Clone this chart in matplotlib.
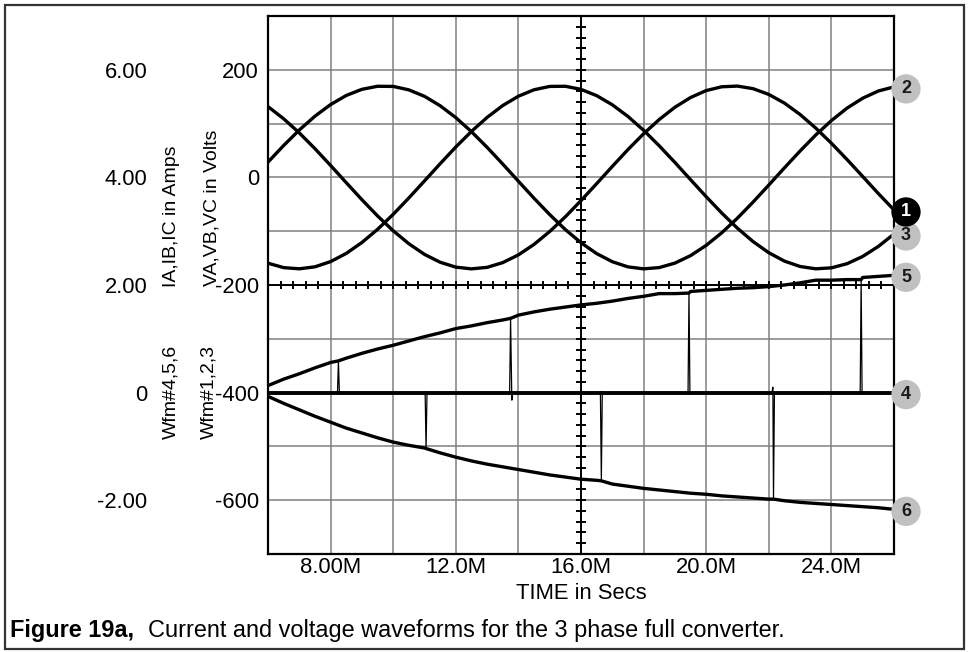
import numpy as np
import matplotlib.pyplot as plt
from matplotlib.patches import Rectangle

plt.rcParams['font.family'] = ['Liberation Sans', 'DejaVu Sans']

# three phase voltages (Wfm#1,2,3), read every 0.5 ms
time_ms = [6.0, 6.5, 7.0, 7.5, 8.0, 8.5, 9.0, 9.5, 10.0, 10.5, 11.0, 11.5, 12.0, 12.5,
           13.0, 13.5, 14.0, 14.5, 15.0, 15.5, 16.0, 16.5, 17.0, 17.5, 18.0, 18.5, 19.0,
           19.5, 20.0, 20.5, 21.0, 21.5, 22.0, 22.5, 23.0, 23.5, 24.0, 24.5, 25.0, 25.5, 26.0]
wfm1 = [131.6, 109.0, 82.7, 53.4, 22.2, -9.8, -41.4, -71.6, -99.2, -123.3, -143.1, -157.7,
        -166.8, -170.0, -167.2, -158.4, -144.0, -124.5, -100.6, -73.2, -43.1, -11.6, 20.4,
        51.7, 81.1, 107.6, 130.4, 148.5, 161.4, 168.5, 169.7, 164.9, 154.2, 138.1, 116.9,
        91.7, 63.5, 33.2, 1.7, -30.0, -60.5]
wfm2 = [28.4, 59.3, 88.1, 113.8, 135.4, 152.3, 163.7, 169.4, 169.1, 162.7, 150.7, 133.2,
        111.1, 85.0, 55.9, 24.8, -7.1, -38.8, -69.1, -97.0, -121.4, -141.6, -156.7, -166.3,
        -170.0, -167.6, -159.3, -145.4, -126.3, -102.8, -75.6, -45.7, -14.2, 17.8, 49.1,
        78.8, 105.6, 128.8, 147.2, 160.6, 168.2]
wfm3 = [-159.5, -167.7, -169.9, -166.2, -156.5, -141.3, -121.0, -96.6, -68.6, -38.2, -6.5,
        25.4, 56.5, 85.5, 111.5, 133.6, 150.9, 162.9, 169.1, 169.4, 163.6, 152.0, 135.0,
        113.3, 87.6, 58.7, 27.8, -4.2, -35.9, -66.4, -94.6, -119.4, -140.0, -155.6, -165.6,
        -169.9, -168.1, -160.4, -146.9, -128.3, -105.2]

# currents, plotted on the volts scale (-400 V = 0 A)
wfm4_t = [6.0, 8.22, 8.25, 8.28, 11.02, 11.05, 11.08, 13.72, 13.75, 13.79, 13.82,
          16.62, 16.65, 16.68, 19.42, 19.45, 19.48, 22.10, 22.13, 22.15, 22.18,
          24.92, 24.95, 24.98, 26.0]
wfm4 = [-400, -400, -341, -400, -400, -504, -400, -400, -262, -414, -400,
        -400, -564, -400, -400, -215, -400, -400, -390, -598, -400,
        -400, -190, -400, -400]

wfm5_t = [6.0, 6.5, 7.0, 7.5, 8.0, 8.25, 8.5, 9.0, 9.5, 10.0, 10.5, 11.0, 11.5, 12.0,
          12.5, 13.0, 13.5, 13.75, 14.0, 14.5, 15.0, 15.5, 16.0, 16.5, 17.0, 17.5, 18.0,
          18.5, 19.0, 19.45, 19.5, 20.0, 20.5, 21.0, 21.5, 22.0, 22.5, 23.0, 23.5, 24.0,
          24.5, 24.95, 25.0, 25.5, 26.0]
wfm5 = [-387, -375, -365, -354, -344, -341, -336, -327, -319, -312, -304, -296, -289, -281,
        -276, -270, -265, -262, -256, -250, -245, -241, -237, -234, -230, -225, -221,
        -216, -216, -215, -212, -210, -208, -206, -205, -203, -200, -196, -191, -191,
        -190, -190, -186, -184, -182]

wfm6_t = [6.0, 6.5, 7.0, 7.5, 8.0, 8.5, 9.0, 9.5, 10.0, 10.5, 11.0, 11.05, 11.5, 12.0,
          12.5, 13.0, 13.5, 14.0, 14.5, 15.0, 15.5, 16.0, 16.5, 16.65, 17.0, 17.5, 18.0,
          18.5, 19.0, 19.5, 20.0, 20.5, 21.0, 21.5, 22.0, 22.15, 22.5, 23.0, 23.5, 24.0,
          24.5, 25.0, 25.5, 26.0]
wfm6 = [-407, -420, -432, -444, -455, -466, -475, -484, -492, -498, -503, -504, -512, -520,
        -527, -533, -538, -543, -548, -553, -557, -561, -563, -564, -570, -574, -578,
        -581, -584, -587, -589, -592, -594, -596, -598, -598, -601, -604, -606, -608,
        -610, -612, -614, -617]

volt_ticks = {200: '200', 0: '0', -200: '-200', -400: '-400', -600: '-600'}
time_ticks = {8: '8.00M', 12: '12.0M', 16: '16.0M', 20: '20.0M', 24: '24.0M'}
amp_ticks = {6: '6.00', 4: '4.00', 2: '2.00', 0: '0', -2: '-2.00'}

FS = 15.8
W, H = 969, 652
fig = plt.figure(figsize=(W / 100, H / 100), dpi=100)
ax = fig.add_axes([268 / W, 1 - 554 / H, (894 - 268) / W, (554 - 16) / H])

ax.set_xlim(6, 26)
ax.set_ylim(-700, 300)

yt = np.arange(-700, 301, 100)
ax.set_yticks(yt, labels=[volt_ticks.get(int(v), '') for v in yt])
xt = np.arange(6, 27, 2)
ax.set_xticks(xt, labels=[time_ticks.get(int(v), '') for v in xt])
ax.tick_params(length=0, labelsize=FS)
ax.tick_params(axis='y', pad=6.5)
ax.tick_params(axis='x', pad=2.5)
ax.grid(True, color='#808080', lw=1.1)
ax.set_axisbelow(True)
for s in ax.spines.values():
    s.set_linewidth(1.6)
ax.set_xlabel('TIME in Secs', fontsize=FS, labelpad=3)

# crosshair with minor ticks
ax.axvline(16, color='black', lw=1.4, zorder=2)
ax.axhline(-200, color='black', lw=1.4, zorder=2)
ht = np.arange(6.4, 26, 0.4)
ax.plot(ht, np.full(len(ht), -200), ls='none', marker='|', ms=5.5, mew=1.4, color='black', zorder=2)
vt = np.arange(-680, 300, 20)
ax.plot(np.full(len(vt), 16), vt, ls='none', marker='_', ms=6.5, mew=1.4, color='black', zorder=2)

lw = 2.4
ax.plot(time_ms, wfm1, color='black', lw=lw, zorder=3)
ax.plot(time_ms, wfm2, color='black', lw=lw, zorder=3)
ax.plot(time_ms, wfm3, color='black', lw=lw, zorder=3)
ax.plot(wfm5_t, wfm5, color='black', lw=lw, zorder=3)
ax.plot(wfm6_t, wfm6, color='black', lw=lw, zorder=3)
w4 = np.array(wfm4, dtype=float)
ax.plot(wfm4_t, w4, color='black', lw=0.9, zorder=3)
ax.plot(wfm4_t, np.where(w4 == -400, w4, np.nan), color='black', lw=lw + 0.4, zorder=3)

# numbered end markers
ends = [('2', wfm2[-1], False), ('3', wfm3[-1], False), ('1', wfm1[-1], True),
        ('5', wfm5[-1], False), ('4', wfm4[-1], False), ('6', wfm6[-1], False)]
for i, (lab, yv, dark) in enumerate(ends):
    ax.annotate(lab, xy=(26, yv), xytext=(12, -2), textcoords='offset pixels',
                ha='center', va='center', fontsize=13, fontweight='bold',
                color='white' if dark else '#1a1a1a', annotation_clip=False, zorder=5 + i,
                bbox=dict(boxstyle='circle,pad=0.34', fc='black' if dark else '#c0c0c0', ec='none'))

# current scale on the left
sec = ax.secondary_yaxis(-0.193, functions=(lambda v: v / 100 + 4, lambda a: (a - 4) * 100))
sec.set_yticks(list(amp_ticks.keys()), labels=list(amp_ticks.values()))
sec.spines['left'].set_visible(False)
sec.tick_params(length=0, pad=0, labelsize=FS)

LS = 14
fig.text(171 / W, 1 - 287 / H, 'IA,IB,IC in Amps', rotation=90, ha='center', va='bottom', fontsize=LS)
fig.text(212 / W, 1 - 286 / H, 'VA,VB,VC in Volts', rotation=90, ha='center', va='bottom', fontsize=LS)
fig.text(171 / W, 1 - 392 / H, 'Wfm#4,5,6', rotation=90, ha='center', va='center', fontsize=LS)
fig.text(209 / W, 1 - 392 / H, 'Wfm#1,2,3', rotation=90, ha='center', va='center', fontsize=LS)

fig.text(10 / W, 1 - 630 / H, 'Figure 19a,', fontsize=16.9, fontweight='bold', va='center')
fig.text(148 / W, 1 - 630 / H, 'Current and voltage waveforms for the 3 phase full converter.',
         fontsize=16.9, va='center')

fig.patches.append(Rectangle((5 / W, 1 - 649 / H), (964 - 5) / W, (649 - 5) / H,
                             transform=fig.transFigure, fill=False, ec='#333333', lw=1.6))

fig.savefig('out.png', dpi=100)
